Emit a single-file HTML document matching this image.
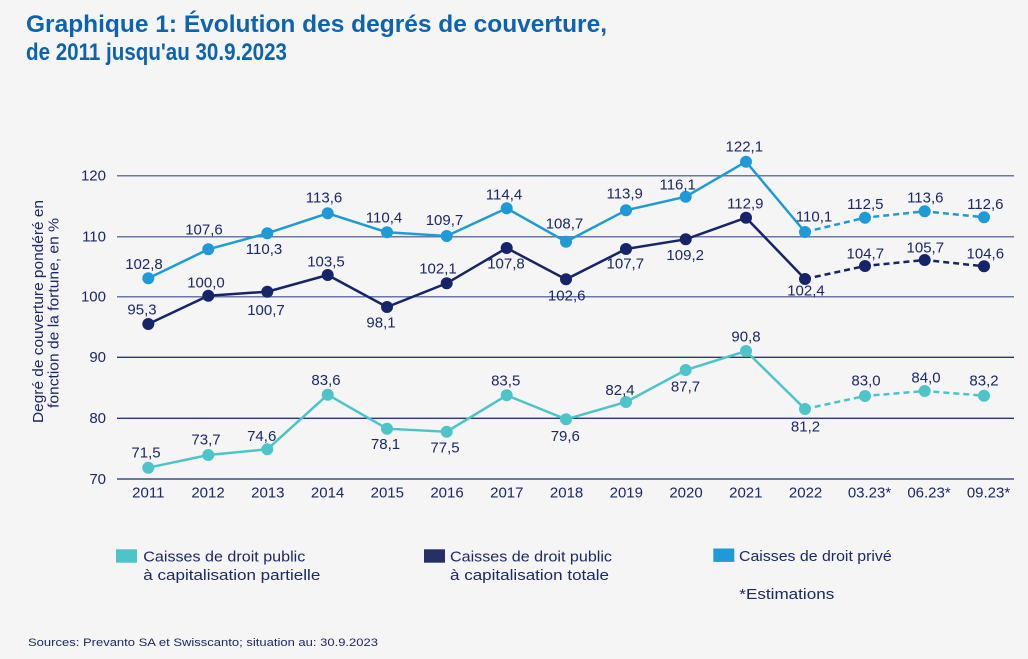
<!DOCTYPE html>
<html><head><meta charset="utf-8"><style>
html,body{margin:0;padding:0;background:#f5f5f5;}
svg{display:block;}
text{font-family:"Liberation Sans",sans-serif;}
</style></head><body>
<svg width="1028" height="659" viewBox="0 0 1028 659" xmlns="http://www.w3.org/2000/svg">
<rect width="1028" height="659" fill="#f5f5f5"/>
<g fill="#0e63b0" font-weight="bold" font-size="24">
<text x="26" y="32" textLength="581" lengthAdjust="spacingAndGlyphs">Graphique 1: Évolution des degrés de couverture,</text>
<text x="26" y="60" textLength="261" lengthAdjust="spacingAndGlyphs">de 2011 jusqu'au 30.9.2023</text>
</g>
<!-- gridlines -->
<g fill="none">
<line x1="117" y1="175.7" x2="1014" y2="175.7" stroke="#6b77a6" stroke-width="1.5"/>
<line x1="117" y1="236.7" x2="1014" y2="236.7" stroke="#6b77a6" stroke-width="1.5"/>
<line x1="117" y1="296.7" x2="1014" y2="296.7" stroke="#6b77a6" stroke-width="1.5"/>
<line x1="117" y1="357.3" x2="1014" y2="357.3" stroke="#27347c" stroke-width="1.3"/>
<line x1="117" y1="418.3" x2="1014" y2="418.3" stroke="#27347c" stroke-width="1.3"/>
<line x1="117" y1="479" x2="1014" y2="479" stroke="#6b77a6" stroke-width="2"/>
</g>
<g fill="#1b2768" font-size="15" text-anchor="end">
<text x="106" y="180.5">120</text>
<text x="106" y="241.5">110</text>
<text x="106" y="301.5">100</text>
<text x="106" y="362">90</text>
<text x="106" y="423">80</text>
<text x="106" y="484">70</text>
</g>
<g fill="#1b2768" font-size="15" text-anchor="middle">
<text x="148.3" y="497.5">2011</text>
<text x="208" y="497.5">2012</text>
<text x="267.8" y="497.5">2013</text>
<text x="327.6" y="497.5">2014</text>
<text x="387.3" y="497.5">2015</text>
<text x="447" y="497.5">2016</text>
<text x="506.8" y="497.5">2017</text>
<text x="566.6" y="497.5">2018</text>
<text x="626.3" y="497.5">2019</text>
<text x="686" y="497.5">2020</text>
<text x="745.8" y="497.5">2021</text>
<text x="805.6" y="497.5">2022</text>
<text x="869.5" y="497.5">03.23*</text>
<text x="929" y="497.5">06.23*</text>
<text x="988.5" y="497.5">09.23*</text>
</g>
<!-- y axis title -->
<g fill="#1b2768" font-size="15">
<text transform="translate(43,423) rotate(-90)" textLength="223" lengthAdjust="spacingAndGlyphs">Degré de couverture pondéré en</text>
<text transform="translate(58.5,408) rotate(-90)" textLength="190" lengthAdjust="spacingAndGlyphs">fonction de la fortune, en %</text>
</g>
<!-- private series -->
<g stroke="#1e9bd7" stroke-width="2.5" fill="none">
<polyline points="148.3,278.3 208.3,249.3 267.3,233.3 327.7,213.3 387,232.3 446.7,236 506.7,208.3 566,241.7 626,210.3 685.7,196.7 746,161.7 805,232"/>
<polyline points="805,232 865,217.7 924.7,211.3 984,217.3" stroke-dasharray="6,4"/>
</g>
<g fill="#1e9bd7">
<circle cx="148.3" cy="278.3" r="6"/><circle cx="208.3" cy="249.3" r="6"/><circle cx="267.3" cy="233.3" r="6"/><circle cx="327.7" cy="213.3" r="6"/><circle cx="387" cy="232.3" r="6"/><circle cx="446.7" cy="236" r="6"/><circle cx="506.7" cy="208.3" r="6"/><circle cx="566" cy="241.7" r="6"/><circle cx="626" cy="210.3" r="6"/><circle cx="685.7" cy="196.7" r="6"/><circle cx="746" cy="161.7" r="6"/><circle cx="805" cy="232" r="6"/><circle cx="865" cy="217.7" r="6"/><circle cx="924.7" cy="211.3" r="6"/><circle cx="984" cy="217.3" r="6"/>
</g>
<!-- total series -->
<g stroke="#16246a" stroke-width="2.5" fill="none">
<polyline points="148.3,324 208.3,295.7 267.3,291.7 327.7,275 387,307 446.7,283.3 506.7,248 566,279.3 626,249 685.7,239.3 746,217.7 805,279"/>
<polyline points="805,279 865,266 924.7,260 984,266.3" stroke-dasharray="6,4"/>
</g>
<g fill="#16246a">
<circle cx="148.3" cy="324" r="6"/><circle cx="208.3" cy="295.7" r="6"/><circle cx="267.3" cy="291.7" r="6"/><circle cx="327.7" cy="275" r="6"/><circle cx="387" cy="307" r="6"/><circle cx="446.7" cy="283.3" r="6"/><circle cx="506.7" cy="248" r="6"/><circle cx="566" cy="279.3" r="6"/><circle cx="626" cy="249" r="6"/><circle cx="685.7" cy="239.3" r="6"/><circle cx="746" cy="217.7" r="6"/><circle cx="805" cy="279" r="6"/><circle cx="865" cy="266" r="6"/><circle cx="924.7" cy="260" r="6"/><circle cx="984" cy="266.3" r="6"/>
</g>
<!-- partial series -->
<g stroke="#4dc4c8" stroke-width="2.5" fill="none">
<polyline points="148.3,467.7 208.3,455 267.3,449.3 327.7,394.7 387,428.7 446.7,431.7 506.7,395.3 566,419.3 626,402 685.7,370 746,351 805,409"/>
<polyline points="805,409 865,396 924.7,391 984,395.7" stroke-dasharray="6,4"/>
</g>
<g fill="#4dc4c8">
<circle cx="148.3" cy="467.7" r="6"/><circle cx="208.3" cy="455" r="6"/><circle cx="267.3" cy="449.3" r="6"/><circle cx="327.7" cy="394.7" r="6"/><circle cx="387" cy="428.7" r="6"/><circle cx="446.7" cy="431.7" r="6"/><circle cx="506.7" cy="395.3" r="6"/><circle cx="566" cy="419.3" r="6"/><circle cx="626" cy="402" r="6"/><circle cx="685.7" cy="370" r="6"/><circle cx="746" cy="351" r="6"/><circle cx="805" cy="409" r="6"/><circle cx="865" cy="396" r="6"/><circle cx="924.7" cy="391" r="6"/><circle cx="984" cy="395.7" r="6"/>
</g>
<!-- data labels -->
<g fill="#1b2768" font-size="15" text-anchor="middle">
<text x="144" y="269">102,8</text>
<text x="204" y="234.3">107,6</text>
<text x="264" y="254">110,3</text>
<text x="324" y="202.7">113,6</text>
<text x="384" y="222.7">110,4</text>
<text x="444.5" y="225">109,7</text>
<text x="504" y="199.3">114,4</text>
<text x="564.5" y="228.3">108,7</text>
<text x="624.7" y="198.3">113,9</text>
<text x="677.7" y="189.3">116,1</text>
<text x="744.3" y="151.7">122,1</text>
<text x="814" y="221.7">110,1</text>
<text x="865.3" y="209">112,5</text>
<text x="925.3" y="202.7">113,6</text>
<text x="985.3" y="209">112,6</text>

<text x="142" y="314.3">95,3</text>
<text x="206" y="287.7">100,0</text>
<text x="266" y="315">100,7</text>
<text x="326" y="266.7">103,5</text>
<text x="381" y="327.3">98,1</text>
<text x="438" y="273.3">102,1</text>
<text x="506" y="268.3">107,8</text>
<text x="566.7" y="300.7">102,6</text>
<text x="625.3" y="268.3">107,7</text>
<text x="685.2" y="260">109,2</text>
<text x="745.3" y="208.3">112,9</text>
<text x="806" y="295.7">102,4</text>
<text x="865.3" y="258.3">104,7</text>
<text x="925.3" y="252.3">105,7</text>
<text x="985.3" y="258.3">104,6</text>

<text x="146" y="457.3">71,5</text>
<text x="206" y="444.3">73,7</text>
<text x="261.7" y="441">74,6</text>
<text x="326" y="385">83,6</text>
<text x="385.5" y="449">78,1</text>
<text x="445" y="452.3">77,5</text>
<text x="505.7" y="385.7">83,5</text>
<text x="565.3" y="441">79,6</text>
<text x="620" y="395">82,4</text>
<text x="685.5" y="391.7">87,7</text>
<text x="746" y="341.7">90,8</text>
<text x="805.5" y="431.7">81,2</text>
<text x="866" y="385.7">83,0</text>
<text x="926" y="382.3">84,0</text>
<text x="984" y="385.7">83,2</text>
</g>
<!-- legend -->
<rect x="116" y="549.3" width="21" height="13.4" fill="#4dc4c8"/>
<rect x="424" y="549.3" width="21" height="13.4" fill="#25306a"/>
<rect x="713.3" y="548.5" width="21" height="13.4" fill="#1e9bd7"/>
<g fill="#1b2768" font-size="15">
<text x="143.3" y="561.7" textLength="162" lengthAdjust="spacingAndGlyphs">Caisses de droit public</text>
<text x="143.3" y="580" textLength="177" lengthAdjust="spacingAndGlyphs">à capitalisation partielle</text>
<text x="450" y="561.7" textLength="162" lengthAdjust="spacingAndGlyphs">Caisses de droit public</text>
<text x="450" y="580" textLength="159" lengthAdjust="spacingAndGlyphs">à capitalisation totale</text>
<text x="739" y="561" textLength="152.7" lengthAdjust="spacingAndGlyphs">Caisses de droit privé</text>
<text x="739.3" y="599" textLength="95" lengthAdjust="spacingAndGlyphs">*Estimations</text>
</g>
<text x="28" y="646" fill="#1b2768" font-size="11" textLength="350" lengthAdjust="spacingAndGlyphs">Sources: Prevanto SA et Swisscanto; situation au: 30.9.2023</text>
</svg>
</body></html>
